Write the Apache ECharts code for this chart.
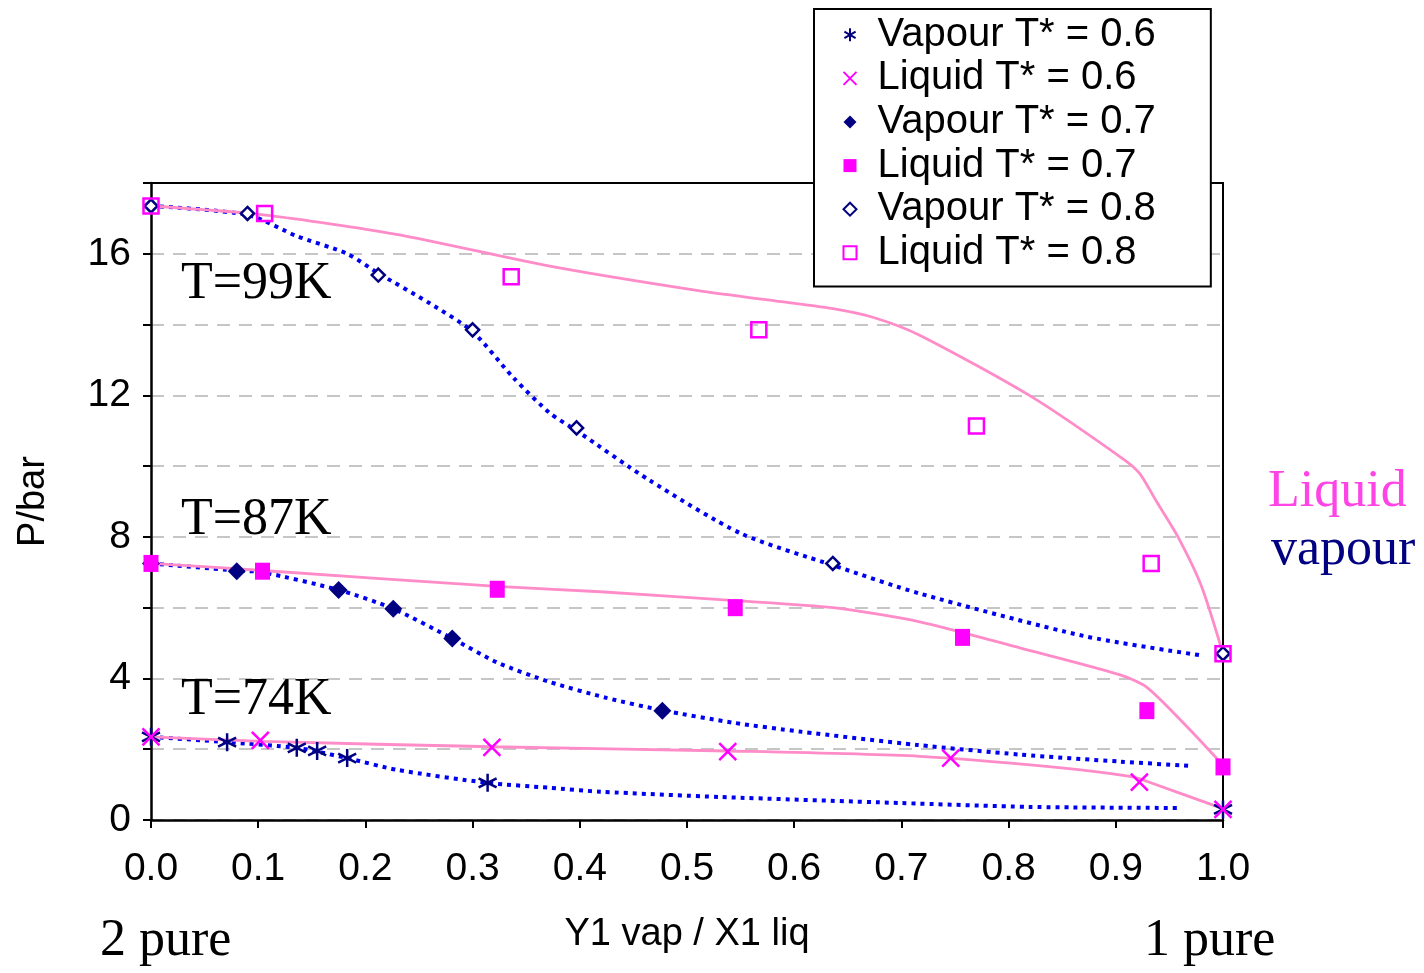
<!DOCTYPE html>
<html>
<head>
<meta charset="utf-8">
<script src="https://cdn.jsdelivr.net/npm/echarts@6/dist/echarts.min.js"></script>
<style>
  html, body { margin: 0; padding: 0; background: #fff; }
  #chart { width: 1424px; height: 973px; }
</style>
</head>
<body>
<div id="chart"></div>
<script>
// Measured VLE points: [mole fraction of component 1, pressure in bar]
const vapour06 = [[0, 2.35], [0.071, 2.2], [0.136, 2.04], [0.155, 1.95], [0.183, 1.75], [0.314, 1.05], [1.0, 0.3]];
const liquid06 = [[0, 2.35], [0.102, 2.25], [0.318, 2.05], [0.538, 1.93], [0.746, 1.75], [0.922, 1.07], [1.0, 0.3]];
const vapour07 = [[0, 7.25], [0.08, 7.03], [0.175, 6.5], [0.226, 5.97], [0.281, 5.13], [0.477, 3.09]];
const liquid07 = [[0, 7.25], [0.104, 7.03], [0.323, 6.52], [0.545, 6.0], [0.757, 5.16], [0.929, 3.09], [1.0, 1.5]];
const vapour08 = [[0, 17.35], [0.09, 17.14], [0.212, 15.4], [0.30, 13.85], [0.397, 11.08], [0.636, 7.25], [1.0, 4.7]];
const liquid08 = [[0, 17.35], [0.106, 17.14], [0.336, 15.35], [0.567, 13.85], [0.77, 11.13], [0.933, 7.25], [1.0, 4.7]];

// Model curves (dew lines = vapour, bubble lines = liquid)
const dew06 = [[0, 2.35], [0.071, 2.2], [0.136, 2.04], [0.155, 1.93], [0.183, 1.75], [0.229, 1.42], [0.314, 1.05], [0.372, 0.91], [0.419, 0.8], [0.531, 0.65], [0.699, 0.48], [0.82, 0.37], [0.957, 0.34]];
const bubble06 = [[0, 2.35], [0.104, 2.22], [0.318, 2.07], [0.538, 1.95], [0.717, 1.8], [0.84, 1.5], [0.916, 1.22], [0.93, 1.08], [1.0, 0.32]];
const dew07 = [[0, 7.25], [0.08, 7.05], [0.104, 7.0], [0.175, 6.5], [0.226, 5.97], [0.281, 5.13], [0.323, 4.45], [0.372, 3.9], [0.425, 3.45], [0.477, 3.1], [0.543, 2.75], [0.605, 2.5], [0.715, 2.12], [0.81, 1.85], [0.904, 1.65], [0.969, 1.53]];
const bubble07 = [[0, 7.25], [0.104, 7.05], [0.323, 6.6], [0.419, 6.45], [0.545, 6.2], [0.636, 6.0], [0.717, 5.6], [0.812, 4.85], [0.904, 4.1], [0.929, 3.75], [0.966, 2.65], [1.0, 1.55]];
const dew08 = [[0, 17.35], [0.09, 17.1], [0.136, 16.5], [0.183, 16.0], [0.212, 15.45], [0.26, 14.6], [0.30, 13.8], [0.338, 12.5], [0.372, 11.5], [0.397, 11.0], [0.465, 9.6], [0.55, 8.1], [0.636, 7.2], [0.717, 6.4], [0.87, 5.2], [0.98, 4.65]];
const bubble08 = [[0, 17.35], [0.105, 17.1], [0.229, 16.55], [0.372, 15.65], [0.512, 14.95], [0.575, 14.7], [0.636, 14.45], [0.674, 14.2], [0.717, 13.7], [0.822, 11.95], [0.907, 10.2], [0.922, 9.8], [0.938, 9.0], [0.958, 8.0], [0.98, 6.6], [1.0, 4.7]];

const seriesNames = ['Vapour T* = 0.6', 'Liquid T* = 0.6', 'Vapour T* = 0.7', 'Liquid T* = 0.7', 'Vapour T* = 0.8', 'Liquid T* = 0.8'];
const isothermLabels = ['T=74K', 'T=87K', 'T=99K'];
const phaseLabels = ['Liquid', 'vapour'];
const endLabels = ['2 pure', '1 pure'];
const xTitle = 'Y1 vap / X1 liq';
const yTitle = 'P/bar';

const NAVY = '#000080';
const MAGENTA = '#ff00ff';
const DOT_BLUE = '#0000f0';
const PINK = '#ff8cc8';
const SANS = '"Liberation Sans", Arial, sans-serif';
const SERIF = '"Liberation Serif", "Times New Roman", serif';

const ASTERISK = 'path://M0,-10L0,10M-8.66,-5L8.66,5M-8.66,5L8.66,-5';
const CROSS = 'path://M-10,-10L10,10M-10,10L10,-10';

function curve(data, color, dashed) {
  return {
    type: 'line', data: data, smooth: 0.25, symbol: 'none', silent: true, z: 2,
    lineStyle: dashed
      ? { color: color, width: 4, type: [4, 5], cap: 'butt' }
      : { color: color, width: 2.8, type: 'solid' }
  };
}

// liquid markers sit above vapour markers where the two coincide
function markers(name, data, symbol, size, fill, stroke, bw, z) {
  return {
    name: name, type: 'scatter', data: data, symbol: symbol, symbolSize: size, z: z,
    itemStyle: { color: fill, borderColor: stroke, borderWidth: bw, opacity: 1 }
  };
}

const chart = echarts.init(document.getElementById('chart'), null, { renderer: 'canvas' });

const serifText = (text, x, y, color) => ({
  type: 'text', left: x, top: y, z: 20,
  style: { text: text, fill: color || '#000', font: '52px ' + SERIF, verticalAlign: 'top' }
});

// plain frame lines for the top and right edges of the plot
const frameLine = { show: true, onZero: false, lineStyle: { color: '#000', width: 2 } };

chart.setOption({
  animation: false,
  backgroundColor: '#fff',
  grid: { left: 151, right: 201, top: 183, bottom: 153 },
  xAxis: [{
    type: 'value', min: 0, max: 1, interval: 0.1,
    name: xTitle, nameLocation: 'middle', nameGap: 96,
    nameTextStyle: { fontFamily: SANS, fontSize: 38, color: '#000', verticalAlign: 'top' },
    axisLine: { show: true, onZero: false, lineStyle: { color: '#000', width: 2.5 } },
    axisTick: { show: true, length: 8, lineStyle: { color: '#000', width: 2 } },
    axisLabel: { margin: 30, fontFamily: SANS, fontSize: 39, color: '#000', formatter: v => v.toFixed(1) },
    splitLine: { show: false }
  }, {
    type: 'value', position: 'top', min: 0, max: 1, z: 4,
    axisLine: frameLine, axisTick: { show: false }, axisLabel: { show: false }, splitLine: { show: false }
  }],
  yAxis: [{
    type: 'value', min: 0, max: 18, interval: 2,
    name: yTitle, nameLocation: 'middle', nameGap: 98, nameRotate: 90,
    nameTextStyle: { fontFamily: SANS, fontSize: 38, color: '#000' },
    axisLine: { show: true, onZero: false, lineStyle: { color: '#000', width: 2.5 } },
    axisTick: { show: true, length: 8, lineStyle: { color: '#000', width: 2 } },
    axisLabel: { margin: 20, fontFamily: SANS, fontSize: 39, color: '#000', formatter: v => (v % 4 === 0 && v < 18 ? String(v) : '') },
    splitLine: { show: true, lineStyle: { color: '#c6c6c6', width: 2, type: [13, 9] } }
  }, {
    type: 'value', position: 'right', min: 0, max: 18, z: 4,
    axisLine: frameLine, axisTick: { show: false }, axisLabel: { show: false }, splitLine: { show: false }
  }],
  legend: {
    orient: 'vertical', left: 814, top: 9, z: 10,
    data: seriesNames,
    backgroundColor: '#fff', borderColor: '#000', borderWidth: 2, borderRadius: 0,
    padding: [4, 55, 12, 27],
    itemWidth: 13, itemHeight: 13, itemGap: 0,
    textStyle: { fontFamily: SANS, fontSize: 40, color: '#000', lineHeight: 43.6, padding: [0, 0, 0, 16] }
  },
  series: [
    curve(dew06, DOT_BLUE, true),
    curve(dew07, DOT_BLUE, true),
    curve(dew08, DOT_BLUE, true),
    curve(bubble06, PINK, false),
    curve(bubble07, PINK, false),
    curve(bubble08, PINK, false),
    markers(seriesNames[0], vapour06, ASTERISK, 18, 'none', NAVY, 2.5, 5),
    markers(seriesNames[1], liquid06, CROSS, 17, 'none', MAGENTA, 2.5, 6),
    markers(seriesNames[2], vapour07, 'diamond', 18, NAVY, NAVY, 0, 5),
    markers(seriesNames[3], liquid07, 'rect', [15, 17], MAGENTA, MAGENTA, 0, 6),
    markers(seriesNames[4], vapour08, 'diamond', 13, '#fff', NAVY, 2.5, 5),
    markers(seriesNames[5], liquid08, 'rect', 15, 'none', MAGENTA, 2.5, 6)
  ],
  graphic: [
    serifText(isothermLabels[2], 181, 258),
    serifText(isothermLabels[1], 181, 494),
    serifText(isothermLabels[0], 181, 674),
    serifText(phaseLabels[0], 1268, 466, '#ff44e6'),
    serifText(phaseLabels[1], 1271, 524, NAVY),
    serifText(endLabels[0], 100, 915),
    serifText(endLabels[1], 1144, 915)
  ]
});
</script>
</body>
</html>
